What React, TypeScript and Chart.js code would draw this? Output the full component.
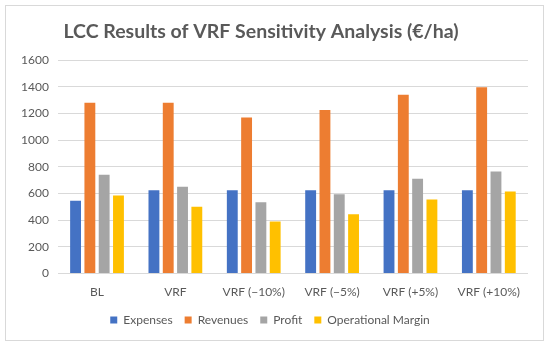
import React, { useEffect, useRef } from "react";
import { Chart, registerables } from "chart.js";

Chart.register(...registerables);

const categories = ["BL", "VRF", "VRF (\u221210%)", "VRF (\u22125%)", "VRF (+5%)", "VRF (+10%)"];
const expenses = [545, 625, 625, 625, 625, 625];
const revenues = [1280, 1280, 1170, 1225, 1340, 1395];
const profit = [740, 650, 535, 595, 710, 765];
const operationalMargin = [585, 500, 390, 445, 555, 615];
const yTicks = [0, 200, 400, 600, 800, 1000, 1200, 1400, 1600];
const titleText = "LCC Results of VRF Sensitivity Analysis (\u20AC/ha)";

const FONT = "Lato, 'Open Sans', sans-serif";

const titlePlugin = {
  id: "offsetTitle",
  afterDraw(chart: any) {
    const ctx = chart.ctx;
    ctx.save();
    ctx.font = `bold 19.5px ${FONT}`;
    ctx.fillStyle = "#595959";
    ctx.textAlign = "center";
    ctx.textBaseline = "middle";
    ctx.fillText(titleText, 255, 25.5);
    ctx.restore();
  },
};

export default function App() {
  const ref = useRef<HTMLCanvasElement | null>(null);
  useEffect(() => {
    if (!ref.current) return;
    const chart = new Chart(ref.current, {
      type: "bar",
      data: {
        labels: categories,
        datasets: [
          { label: "Expenses", data: expenses, backgroundColor: "#4472C4" },
          { label: "Revenues", data: revenues, backgroundColor: "#ED7D31" },
          { label: "Profit", data: profit, backgroundColor: "#A5A5A5" },
          { label: "Operational Margin", data: operationalMargin, backgroundColor: "#FFC000" },
        ],
      },
      plugins: [titlePlugin],
      options: {
        animation: false,
        responsive: false,
        maintainAspectRatio: false,
        datasets: { bar: { categoryPercentage: 0.73, barPercentage: 0.76 } },
        layout: { padding: { left: 6, right: 15, top: 54, bottom: 4 } },
        plugins: {
          title: { display: false },
          legend: {
            position: "bottom",
            labels: {
              boxWidth: 7,
              boxHeight: 7,
              color: "#595959",
              font: { family: FONT, size: 12 },
              padding: 12,
            },
          },
          tooltip: { enabled: false },
        },
        scales: {
          x: {
            grid: { display: false },
            border: { display: false },
            ticks: { color: "#595959", font: { family: FONT, size: 12 }, maxRotation: 0, padding: 3 },
          },
          y: {
            min: 0,
            max: 1600,
            afterBuildTicks: (axis: any) => {
              axis.ticks = yTicks.map((v) => ({ value: v }));
            },
            grid: { color: "#D9D9D9", drawTicks: false },
            border: { display: false },
            ticks: {
              color: "#595959",
              font: { family: FONT, size: 12 },
              padding: 9,
              callback: (v: any) => String(v),
            },
          },
        },
      },
    });
    return () => chart.destroy();
  }, []);
  return (
    <div style={{ position: "fixed", left: 0, top: 0, width: 550, height: 346, background: "#fff" }}>
      <div
        style={{
          position: "absolute",
          left: 5,
          top: 5,
          width: 537,
          height: 334,
          border: "1px solid #D9D9D9",
        }}
      >
        <canvas ref={ref} width={537} height={334} />
      </div>
    </div>
  );
}
